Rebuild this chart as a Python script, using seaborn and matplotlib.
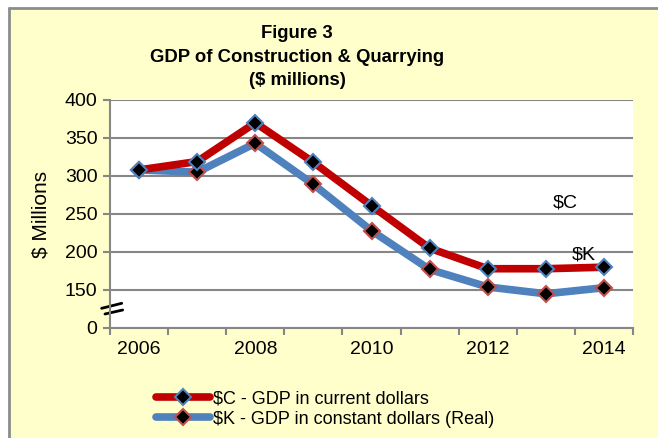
import numpy as np
import pandas as pd
import matplotlib
matplotlib.use('Agg')
import matplotlib.pyplot as plt
import matplotlib.transforms as mtransforms
from matplotlib.patches import Rectangle
from matplotlib.lines import Line2D
import seaborn as sns

# data
years = [2006, 2007, 2008, 2009, 2010, 2011, 2012, 2013, 2014]
gdp_current = [308, 319, 370, 318, 261, 205, 178, 178, 180]
gdp_constant = [308, 305, 343, 289, 228, 177, 154, 145, 153]
series_labels = ['$C - GDP in current dollars', '$K - GDP in constant dollars (Real)']
label_years = [2006, 2008, 2010, 2012, 2014]
ytick_vals = [100, 150, 200, 250, 300, 350, 400]
ytick_text = ['0', '150', '200', '250', '300', '350', '400']

df = pd.DataFrame({'year': years, 'current': gdp_current, 'constant': gdp_constant})

sns.set_style('white')
plt.rcParams['font.family'] = ['Liberation Sans', 'DejaVu Sans']
plt.rcParams['text.color'] = 'black'
plt.rcParams['xtick.color'] = 'black'
plt.rcParams['ytick.color'] = 'black'
plt.rcParams['axes.labelcolor'] = 'black'

W, H = 658, 438
fig = plt.figure(figsize=(W / 100, H / 100), dpi=100, facecolor='white')

# cream chart area with grey border on left/top
fig.patches.append(Rectangle((10 / W, 0), 1 - 10 / W, 1 - 8 / H, transform=fig.transFigure,
                             facecolor='#FFFFCC', edgecolor='none', zorder=-10))
fig.lines.append(Line2D([9 / W, 9 / W], [0, 1 - 8 / H], transform=fig.transFigure,
                        color='#8C8C8C', lw=2, zorder=-9))
fig.lines.append(Line2D([9 / W, 1], [1 - 8 / H, 1 - 8 / H], transform=fig.transFigure,
                        color='#8C8C8C', lw=2, zorder=-9))

ax = fig.add_axes([110 / W, 1 - 328 / H, 523 / W, 228 / H])
ax.set_facecolor('white')

red, blue = '#C00000', '#4F81BD'
sns.lineplot(data=df, x='year', y='current', ax=ax, color=red, linewidth=5.5,
             marker='D', markersize=8, markerfacecolor='black', markeredgecolor=blue,
             markeredgewidth=1.5, label=series_labels[0], zorder=4)
sns.lineplot(data=df, x='year', y='constant', ax=ax, color=blue, linewidth=5.5,
             marker='D', markersize=8, markerfacecolor='black', markeredgecolor='#C0504D',
             markeredgewidth=1.5, label=series_labels[1], zorder=3)

ax.set_xlim(years[0] - 0.5, years[-1] + 0.5)
ax.set_ylim(100, 400)

# category boundaries get tick marks, labels sit in the middle
ax.set_xticks(np.arange(years[0] - 0.5, years[-1] + 1, 1.0))
ax.set_xticklabels([])
ax.set_xticks(label_years, minor=True)
ax.set_xticklabels([str(y) for y in label_years], minor=True, fontsize=14)
ax.tick_params(axis='x', which='major', direction='out', length=5, width=1.5, color='#868686', bottom=True)
ax.tick_params(axis='x', which='minor', length=0, pad=9)

ax.set_yticks(ytick_vals)
ax.set_yticklabels(ytick_text, fontsize=14)
ax.tick_params(axis='y', direction='out', length=5, width=1.5, color='#868686', left=True, pad=4)

ax.grid(axis='y', color='#868686', linewidth=1.5)
ax.set_axisbelow(True)
sns.despine(ax=ax, top=True, right=True)
for s in ['left', 'bottom']:
    ax.spines[s].set_color('#868686')
    ax.spines[s].set_linewidth(1.5)

ax.set_xlabel('')
ax.set_ylabel('$ Millions', fontsize=15, labelpad=10)

# axis break mark
tr = mtransforms.blended_transform_factory(ax.transAxes, ax.transData)
ax.plot([-0.016, 0.0224], [125.9, 132.5], transform=tr, color='black', lw=2, clip_on=False)
ax.plot([-0.0096, 0.0243], [118.4, 123.7], transform=tr, color='black', lw=2, clip_on=False)

ax.text(2013.34, 264, '$C', fontsize=14, ha='center', va='center')
ax.text(2013.66, 196, '$K', fontsize=14, ha='center', va='center')

fig.text(297 / W, 1 - 57 / H, 'Figure 3\nGDP of Construction & Quarrying\n($ millions)',
         ha='center', va='center', fontsize=13.3, fontweight='bold', linespacing=1.5)

handles, labels = ax.get_legend_handles_labels()
ax.legend(handles, labels, loc='center left', bbox_to_anchor=(156 / W, 1 - 409 / H),
          bbox_transform=fig.transFigure, frameon=False, fontsize=13, handlelength=3.0,
          handletextpad=0.15, labelspacing=0.2, borderpad=0, borderaxespad=0)

plt.savefig('out.png', dpi=100, facecolor=fig.get_facecolor())
